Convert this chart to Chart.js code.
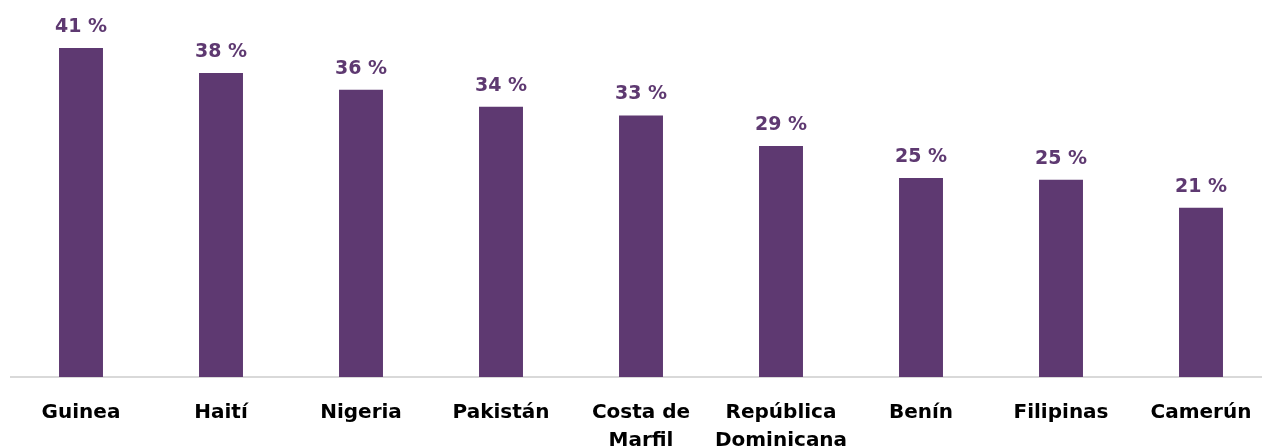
<!DOCTYPE html>
<html>
<head>
<meta charset="utf-8">
<script src="https://cdn.jsdelivr.net/npm/chart.js@4/dist/chart.umd.min.js"></script>
<style>
  html, body { margin: 0; padding: 0; background: #fff; overflow: hidden; }
  #wrap { width: 1272px; height: 448px; }
</style>
</head>
<body>
<div id="wrap"><canvas id="barChart" width="1272" height="448"></canvas></div>
<script>
// Countries (multi-line where the original wraps)
const countries = [
    "Guinea", "Haití", "Nigeria", "Pakistán", ["Costa de", "Marfil"],
    ["República", "Dominicana"], "Benín", "Filipinas", "Camerún"
];

// Share in percent
const shares = [41, 37.9, 35.8, 33.7, 32.6, 28.8, 24.8, 24.6, 21.1];

const purple = "#5e3971";

// Draw "NN %" above each bar
const valueLabels = {
    id: "valueLabels",
    afterDatasetsDraw(chart) {
        const ctx = chart.ctx;
        const meta = chart.getDatasetMeta(0);
        ctx.save();
        ctx.font = "bold 19px 'DejaVu Sans'";
        ctx.fillStyle = purple;
        ctx.textAlign = "center";
        ctx.textBaseline = "alphabetic";
        meta.data.forEach((bar, i) => {
            ctx.fillText(`${Math.round(shares[i])} %`, bar.x, bar.y - 16);
        });
        ctx.restore();
    }
};

new Chart(document.getElementById("barChart"), {
    type: "bar",
    data: {
        labels: countries,
        datasets: [{
            data: shares,
            backgroundColor: purple,
            barPercentage: 0.314,
            categoryPercentage: 1
        }]
    },
    options: {
        responsive: false,
        animation: false,
        layout: { padding: { top: 16, left: 11, right: 1, bottom: 0 } },
        plugins: {
            legend: { display: false },
            tooltip: { enabled: false }
        },
        scales: {
            x: {
                grid: { display: false },
                border: { display: true, color: "#d9d9d9", width: 2 },
                ticks: {
                    color: "#000",
                    maxRotation: 0,
                    autoSkip: false,
                    padding: 14,
                    font: { family: "DejaVu Sans", size: 20, weight: "bold", lineHeight: 1.4 }
                },
                afterFit(scale) { scale.height = 71; }
            },
            y: {
                display: false,
                min: 0,
                max: 45
            }
        }
    },
    plugins: [valueLabels]
});
</script>
</body>
</html>
